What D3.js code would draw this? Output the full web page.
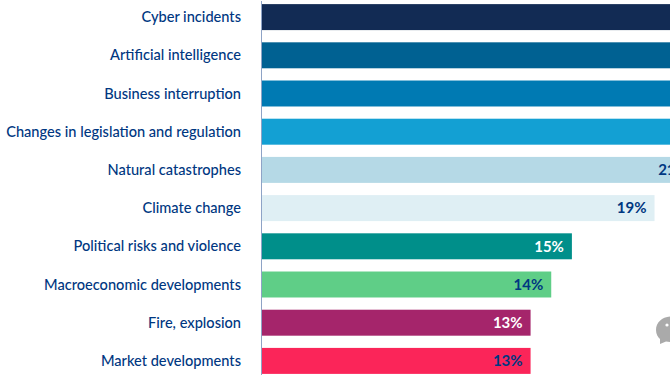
<!DOCTYPE html>
<html>
<head>
<meta charset="utf-8">
<script src="https://cdnjs.cloudflare.com/ajax/libs/d3/7.8.5/d3.min.js"></script>
<style>
  html, body { margin: 0; padding: 0; background: #fff; overflow: hidden; }
  text { font-family: Lato, "Open Sans", sans-serif; }
</style>
</head>
<body>
<script>
// values, the top four bars run out of the frame so theirs are estimates
const risks = ["Cyber incidents", "Artificial intelligence", "Business interruption",
  "Changes in legislation and regulation", "Natural catastrophes", "Climate change",
  "Political risks and violence", "Macroeconomic developments", "Fire, explosion", "Market developments"];
const shares = [42, 32, 29, 22, 21, 19, 15, 14, 13, 13];
const barColors = ["#122b54", "#006192", "#007ab3", "#13a0d3", "#b5d9e6", "#dfeff4",
  "#008f8a", "#5fce87", "#a5256b", "#fb2559"];
const valueColors = ["#fff", "#fff", "#fff", "#fff", "#003781", "#003781",
  "#fff", "#003781", "#fff", "#003781"];

const width = 670, height = 380;
const left = 262;

const svg = d3.select("body").append("svg")
  .attr("width", width)
  .attr("height", height)
  .style("display", "block");

const x = d3.scaleLinear().domain([0, 1]).range([left, left + 20.66]);
const y = d3.scaleBand().domain(risks)
  .range([-2, 380])
  .paddingInner(0.32)
  .paddingOuter(0.16);

svg.append("g").selectAll("rect")
  .data(risks)
  .join("rect")
  .attr("x", x(0))
  .attr("y", d => y(d))
  .attr("width", (d, i) => x(shares[i]) - x(0))
  .attr("height", y.bandwidth())
  .attr("fill", (d, i) => barColors[i]);

// category labels
svg.append("g").selectAll("text")
  .data(risks)
  .join("text")
  .attr("x", 241)
  .attr("y", d => y(d) + y.bandwidth() / 2)
  .attr("dy", "0.35em")
  .attr("text-anchor", "end")
  .attr("font-size", 14.6)
  .attr("font-weight", 500)
  .attr("fill", "#003781")
  .text(d => d);

// value labels, the ones past the frame are not visible in the picture
const shown = risks.filter((d, i) => shares[i] < 22);
svg.append("g").selectAll("text")
  .data(shown)
  .join("text")
  .attr("x", d => x(shares[risks.indexOf(d)]) - 8)
  .attr("y", d => y(d) + y.bandwidth() / 2)
  .attr("dy", "0.35em")
  .attr("text-anchor", "end")
  .attr("font-size", 15)
  .attr("font-weight", 700)
  .attr("fill", d => valueColors[risks.indexOf(d)])
  .text(d => shares[risks.indexOf(d)] + "%");

svg.append("line")
  .attr("x1", x(0) - 0.5).attr("x2", x(0) - 0.5)
  .attr("y1", 1).attr("y2", 375)
  .attr("stroke", "#8ea3c6")
  .attr("stroke-width", 1);

// chat bubble of the page, cut by the frame
const bubble = svg.append("g");
bubble.append("path")
  .attr("d", "M672 316.5 C663 316.5 656 322 656 330 C656 334.5 658 337 660 339 L660 344 L666 341.5 C668 342 670 342 672 342 Z")
  .attr("fill", "#aaaaaa");
bubble.append("circle").attr("cx", 667).attr("cy", 325).attr("r", 1.6).attr("fill", "#fff");
</script>
</body>
</html>
